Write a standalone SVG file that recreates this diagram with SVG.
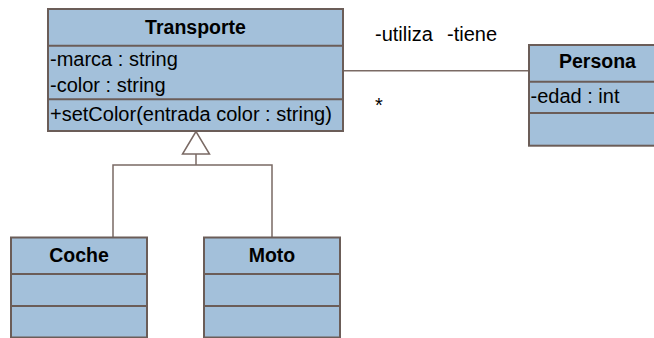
<svg xmlns="http://www.w3.org/2000/svg" width="654" height="338" viewBox="0 0 654 338">
<style>
.box{fill:#a3c0da;stroke:#6b5d58;stroke-width:2}
.div{stroke:#6b5d58;stroke-width:2;fill:none}
.ln{stroke:#7a6a64;stroke-width:1.5;fill:none}
.t{font-family:"Liberation Sans",Arial,sans-serif;font-size:20px;fill:#000}
.b{font-weight:bold;text-anchor:middle;font-size:19.5px}
</style>
<rect width="654" height="338" fill="#fff"/>
<g id="connectors">
<line class="ln" x1="343" y1="70.7" x2="529" y2="70.7"/>
<polyline class="ln" points="113,237.5 113,165 272,165 272,237.5"/>
<line class="ln" x1="196" y1="154" x2="196" y2="165"/>
<polygon points="196,131.5 182.5,154 209.5,154" fill="#fff" stroke="#7a6a64" stroke-width="1.5"/>
<text class="t" x="375" y="40.7">-utiliza</text>
<text class="t" x="447" y="40.7">-tiene</text>
<text class="t" x="375" y="112">*</text>
</g>
<g id="Transporte">
<rect class="box" x="48" y="9" width="295" height="122"/>
<line class="div" x1="48" y1="45.7" x2="343" y2="45.7"/>
<line class="div" x1="48" y1="99.3" x2="343" y2="99.3"/>
<text class="t b" x="195.5" y="34">Transporte</text>
<text class="t" x="50" y="65.7">-marca : string</text>
<text class="t" x="50" y="91.7">-color : string</text>
<text class="t" x="50" y="120.5">+setColor(entrada color : string)</text>
</g>
<g id="Persona">
<rect class="box" x="529" y="45" width="140" height="100.7"/>
<line class="div" x1="529" y1="81.7" x2="669" y2="81.7"/>
<line class="div" x1="529" y1="113" x2="669" y2="113"/>
<text class="t b" x="597.5" y="67.7">Persona</text>
<text class="t" x="530.5" y="102.7">-edad : int</text>
</g>
<g id="Coche">
<rect class="box" x="11" y="237.5" width="136" height="100"/>
<line class="div" x1="11" y1="274" x2="147" y2="274"/>
<line class="div" x1="11" y1="306" x2="147" y2="306"/>
<text class="t b" x="79" y="261.7">Coche</text>
</g>
<g id="Moto">
<rect class="box" x="204" y="237.5" width="136" height="100"/>
<line class="div" x1="204" y1="274" x2="340" y2="274"/>
<line class="div" x1="204" y1="306" x2="340" y2="306"/>
<text class="t b" x="272" y="261.7">Moto</text>
</g>
</svg>
